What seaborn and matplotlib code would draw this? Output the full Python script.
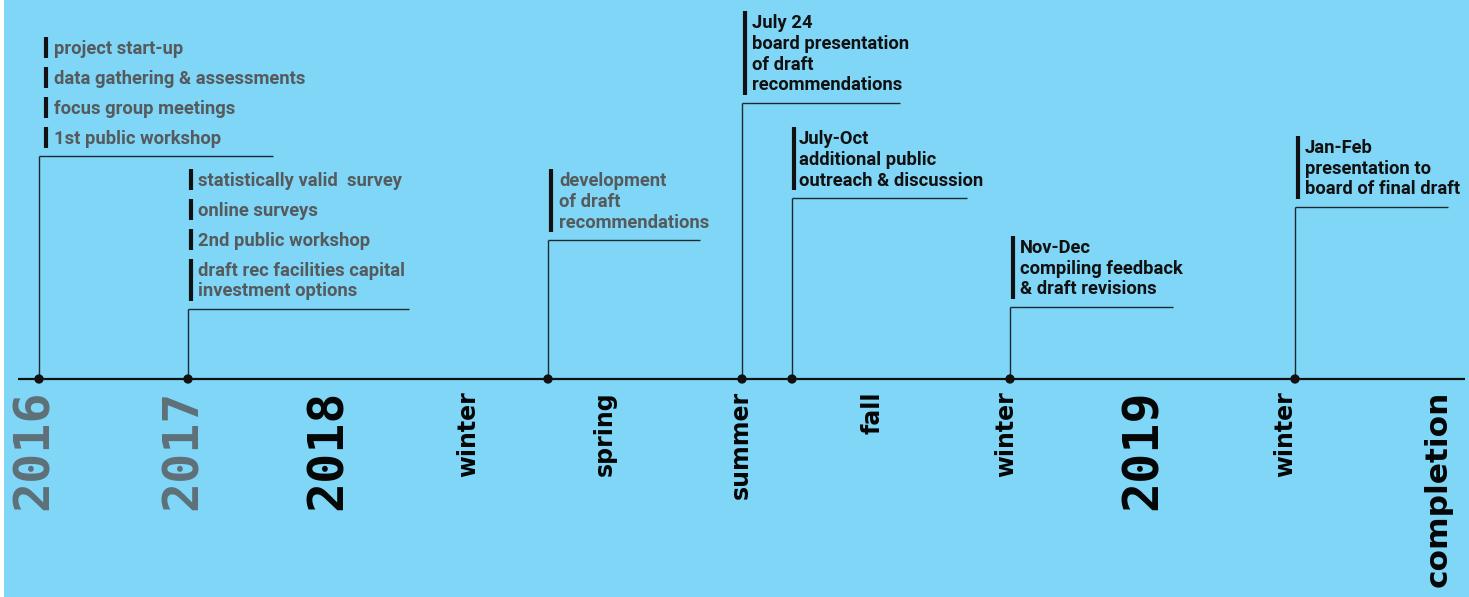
import numpy as np
import pandas as pd
import matplotlib
matplotlib.use("Agg")
import matplotlib.pyplot as plt
import seaborn as sns

# ---------------- data ----------------
tick_labels = ["2016", "2017", "2018", "winter", "spring", "summer", "fall",
               "winter", "2019", "winter", "completion"]
tick_kind = ["past_year", "past_year", "year", "season", "season", "season",
             "season", "season", "year", "season", "final"]
# position along the timeline (timeline units)
tick_pos = [34, 183, 328, 468, 605, 741, 872, 1006, 1143, 1285, 1438]

event_pos = [39, 188, 548, 742, 792, 1010, 1295]
event_done = [True, True, True, False, False, False, False]
event_items = [
    ["project start-up", "data gathering & assessments",
     "focus group meetings", "1st public workshop"],
    ["statistically valid  survey", "online surveys", "2nd public workshop",
     "draft rec facilities capital\ninvestment options"],
    ["development\nof draft\nrecommendations"],
    ["July 24\nboard presentation\nof draft\nrecommendations"],
    ["July-Oct\nadditional public\noutreach & discussion"],
    ["Nov-Dec\ncompiling feedback\n& draft revisions"],
    ["Jan-Feb\npresentation to\nboard of final draft"],
]

# ---------------- layout ----------------
bracket_level = [223, 70, 139, 276, 181, 72, 172]
bracket_len = [234, 221, 152, 158, 175, 163, 153]
bar_dx = [7, 3, 3, 3, 2, 3, 3]
text_dx = [15, 10, 11, 10, 7, 10, 10]
first_gap, line_h, item_h = 19.5, 20.8, 30

BG = "#7fd6f7"
LINE = "#1b2a30"
GREY = "#555a5d"
YEAR_GREY = "#5e7078"

sns.set_theme(style="white")
plt.rcParams["font.family"] = ["DejaVu Sans"]

W, H = 1469, 597
fig = plt.figure(figsize=(W / 100, H / 100), dpi=100, facecolor="white")
ax = fig.add_axes([4 / W, 0, 1 - 4 / W, 1])
ax.set_facecolor(BG)
ax.set_xlim(4, W)
ax.set_ylim(-(H - 379), 379)
for s in ax.spines.values():
    s.set_visible(False)
ax.set_xticks([])
ax.set_yticks([])

# main axis line
ax.hlines(0, min(tick_pos) - 16, max(tick_pos) + 27, color="#111111", lw=1.6, zorder=2)

# stems + brackets
for x, lvl, ln in zip(event_pos, bracket_level, bracket_len):
    ax.vlines(x, 0, lvl, color=LINE, lw=1.0, zorder=2)
    ax.hlines(lvl, x, x + ln, color=LINE, lw=1.0, zorder=2)

# dots
dots = pd.DataFrame({"x": event_pos, "y": [0] * len(event_pos)})
sns.scatterplot(data=dots, x="x", y="y", ax=ax, s=45, color="#111111",
                edgecolor="none", zorder=3, legend=False)

# text blocks
for i, (x, lvl, items) in enumerate(zip(event_pos, bracket_level, event_items)):
    col = GREY if event_done[i] else "#111111"
    y = lvl + first_gap
    prev_item = False
    for item in reversed(items):
        lines = item.split("\n")
        if prev_item:
            y += item_h - line_h
        ys = []
        for line in reversed(lines):
            ys.append(y)
            ax.text(x + text_dx[i], y, line, fontsize=13.2, fontweight="bold",
                    family=["Roboto", "DejaVu Sans"], color=col,
                    ha="left", va="center_baseline")
            y += line_h
        y -= line_h
        ax.vlines(x + bar_dx[i], min(ys) - 11, max(ys) + 10,
                  color="#111111", lw=3.0, zorder=2)
        y += line_h
        prev_item = True

# rotated axis labels
for lab, kind, x in zip(tick_labels, tick_kind, tick_pos):
    if kind in ("past_year", "year"):
        ax.text(x, -11, lab, rotation=90, ha="center", va="top",
                family=["DejaVu Sans Mono"], fontweight="bold", fontsize=36,
                color=YEAR_GREY if kind == "past_year" else "#050505")
    elif kind == "season":
        ax.text(x, -12, lab, rotation=90, ha="center", va="top",
                fontweight="bold", fontsize=17, color="#050505")
    else:
        ax.text(x, -12, lab, rotation=90, ha="center", va="top",
                fontweight="bold", fontsize=22.5, color="#050505")

fig.savefig("out.png", dpi=100, facecolor="white")
